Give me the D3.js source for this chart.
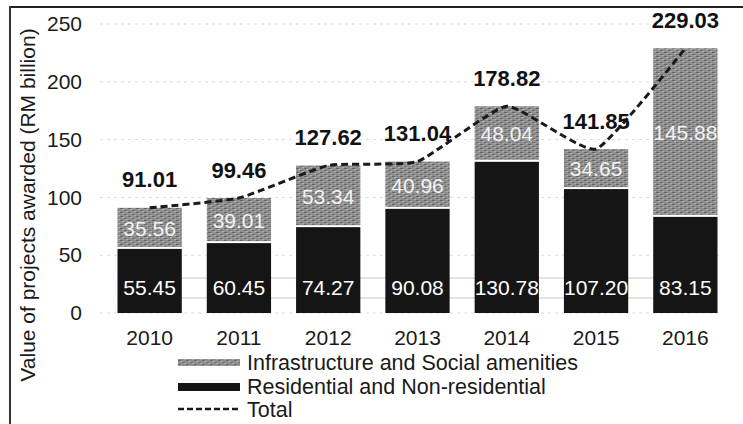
<!DOCTYPE html>
<html>
<head>
<meta charset="utf-8">
<script src="https://cdn.jsdelivr.net/npm/d3@7"></script>
<style>
  body { margin: 0; background: #fff; }
  text { font-family: "Liberation Sans", Arial, sans-serif; }
</style>
</head>
<body>
<div id="chart"></div>
<script>
// data
const years = ['2010', '2011', '2012', '2013', '2014', '2015', '2016'];
const residential = [55.45, 60.45, 74.27, 90.08, 130.78, 107.20, 83.15];
const infrastructure = [35.56, 39.01, 53.34, 40.96, 48.04, 34.65, 145.88];
const totals = [91.01, 99.46, 127.62, 131.04, 178.82, 141.85, 229.03];
const yTicks = [0, 50, 100, 150, 200, 250];
const seriesNames = ['Infrastructure and Social amenities', 'Residential and Non-residential', 'Total'];

const W = 743, H = 424;
const svg = d3.select('#chart').append('svg').attr('width', W).attr('height', H);

// texture for the grey segment
const defs = svg.append('defs');
const pat = defs.append('pattern').attr('id', 'stipple')
  .attr('patternUnits', 'userSpaceOnUse').attr('width', 8).attr('height', 4);
pat.append('rect').attr('width', 8).attr('height', 4).attr('fill', '#8f8f8f');
pat.append('rect').attr('x', 0).attr('y', 0).attr('width', 3).attr('height', 1).attr('fill', '#666');
pat.append('rect').attr('x', 4).attr('y', 2).attr('width', 3).attr('height', 1).attr('fill', '#727272');
pat.append('rect').attr('x', 2).attr('y', 1).attr('width', 2).attr('height', 1).attr('fill', '#b5b5b5');
pat.append('rect').attr('x', 6).attr('y', 3).attr('width', 2).attr('height', 1).attr('fill', '#adadad');

const x = d3.scaleBand().domain(years).range([105, 730]).paddingInner(0.28).paddingOuter(0.14);
const y = d3.scaleLinear().domain([0, 250]).range([313, 24]);

// frame lines (scan border)
svg.append('line').attr('x1', 10).attr('x2', W).attr('y1', 7).attr('y2', 7)
  .attr('stroke', '#222').attr('stroke-width', 2);
svg.append('line').attr('x1', 10).attr('x2', 10).attr('y1', 6).attr('y2', H)
  .attr('stroke', '#333').attr('stroke-width', 2);

// faint dotted gridlines
svg.append('g').selectAll('line').data(yTicks).enter().append('line')
  .attr('x1', 100).attr('x2', 722)
  .attr('y1', d => y(d)).attr('y2', d => y(d))
  .attr('stroke', '#dadada').attr('stroke-width', 1).attr('stroke-dasharray', '3,4');

// y axis
const yAxis = svg.append('g').attr('transform', 'translate(105,0)')
  .call(d3.axisLeft(y).tickValues(yTicks).tickSize(0).tickPadding(23));
yAxis.select('.domain').remove();
yAxis.selectAll('text').attr('font-size', 21).attr('fill', '#1a1a1a')
  .style('font-family', '"Liberation Sans", Arial, sans-serif');

// x axis
const xAxis = svg.append('g').attr('transform', 'translate(0,' + y(0) + ')')
  .call(d3.axisBottom(x).tickSize(0).tickPadding(17));
xAxis.select('.domain').remove();
xAxis.selectAll('text').attr('font-size', 21).attr('fill', '#1a1a1a')
  .style('font-family', '"Liberation Sans", Arial, sans-serif');

// y axis title
svg.append('text')
  .attr('transform', 'translate(35,' + 205 + ') rotate(-90)')
  .attr('text-anchor', 'middle').attr('font-size', 21).attr('fill', '#1a1a1a')
  .text('Value of projects awarded (RM billion)');

const rows = years.map((yr, i) => ({ yr, res: residential[i], inf: infrastructure[i], tot: totals[i] }));

// faint scan lines behind the bottom labels
[y(0) - 35, y(0) - 15].forEach(v => {
  svg.append('line').attr('x1', x(years[0])).attr('x2', x(years[6]) + x.bandwidth())
    .attr('y1', v).attr('y2', v).attr('stroke', '#c8c8c8').attr('stroke-width', 1.2);
});

// bars
const bars = svg.append('g');
bars.selectAll('rect.res').data(rows).enter().append('rect').attr('class', 'res')
  .attr('x', d => x(d.yr)).attr('width', x.bandwidth())
  .attr('y', d => y(d.res)).attr('height', d => y(0) - y(d.res))
  .attr('fill', '#151515');
bars.selectAll('rect.inf').data(rows).enter().append('rect').attr('class', 'inf')
  .attr('x', d => x(d.yr)).attr('width', x.bandwidth())
  .attr('y', d => y(d.res + d.inf)).attr('height', d => y(d.res) - y(d.res + d.inf) - 2)
  .attr('fill', 'url(#stipple)');

// segment labels
bars.selectAll('text.inf').data(rows).enter().append('text').attr('class', 'inf')
  .attr('x', d => x(d.yr) + x.bandwidth() / 2)
  .attr('y', d => (y(d.res) + y(d.res + d.inf)) / 2)
  .attr('dy', '0.35em').attr('text-anchor', 'middle')
  .attr('font-size', 21).attr('fill', '#f2f2f2')
  .text(d => d.inf.toFixed(2));
bars.selectAll('text.res').data(rows).enter().append('text').attr('class', 'res')
  .attr('x', d => x(d.yr) + x.bandwidth() / 2)
  .attr('y', y(0) - 25)
  .attr('dy', '0.35em').attr('text-anchor', 'middle')
  .attr('font-size', 21).attr('fill', '#fff')
  .text(d => d.res.toFixed(2));

// total line
const line = d3.line()
  .x(d => x(d.yr) + x.bandwidth() / 2)
  .y(d => y(d.tot))
  .curve(d3.curveCardinal.tension(0.55));
svg.append('path').datum(rows).attr('d', line)
  .attr('fill', 'none').attr('stroke', '#1a1a1a').attr('stroke-width', 3)
  .attr('stroke-dasharray', '7,4');

// total labels
svg.append('g').selectAll('text').data(rows).enter().append('text')
  .attr('x', d => x(d.yr) + x.bandwidth() / 2)
  .attr('y', d => y(d.tot) - 28)
  .attr('dy', '0.35em').attr('text-anchor', 'middle')
  .attr('font-size', 22).attr('font-weight', 'bold').attr('fill', '#111')
  .text(d => d.tot.toFixed(2));

// legend
const lg = svg.append('g').attr('transform', 'translate(178,0)');
lg.append('rect').attr('x', 0).attr('y', 359).attr('width', 62).attr('height', 7).attr('fill', 'url(#stipple)');
lg.append('rect').attr('x', 0).attr('y', 383).attr('width', 62).attr('height', 8).attr('fill', '#151515');
lg.append('line').attr('x1', 0).attr('x2', 62).attr('y1', 409).attr('y2', 409)
  .attr('stroke', '#1a1a1a').attr('stroke-width', 2.5).attr('stroke-dasharray', '6,3');
[362, 386, 409].forEach((v, i) => {
  lg.append('text').attr('x', 69).attr('y', v).attr('dy', '0.35em')
    .attr('font-size', 21.5).attr('fill', '#1a1a1a').text(seriesNames[i]);
});
</script>
</body>
</html>
